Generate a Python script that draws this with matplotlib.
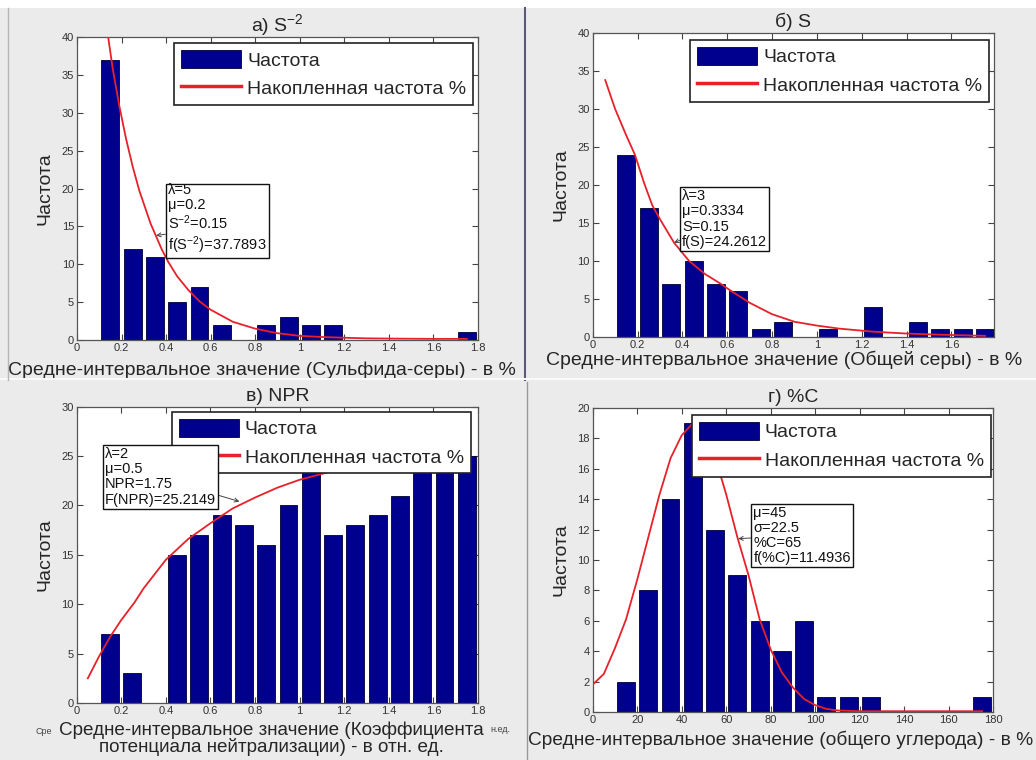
import matplotlib
matplotlib.use("Agg")
import matplotlib.pyplot as plt
from matplotlib.patches import Patch, Rectangle
from matplotlib.lines import Line2D
from matplotlib.ticker import FormatStrFormatter

plt.rcParams['font.family'] = ['Liberation Sans', 'DejaVu Sans']

# ---- data ----
# a) S^-2 (sulfide sulfur)
a_centers = [0.15, 0.25, 0.35, 0.45, 0.55, 0.65, 0.75, 0.85, 0.95, 1.05, 1.15,
             1.25, 1.35, 1.45, 1.55, 1.65, 1.75]
a_counts = [37, 12, 11, 5, 7, 2, 0, 2, 3, 2, 2, 0, 0, 0, 0, 0, 1]
a_curve_x = [0.14, 0.16, 0.19, 0.22, 0.25, 0.28, 0.33, 0.38, 0.41, 0.45, 0.5, 0.55,
             0.6, 0.7, 0.8, 0.9, 1.0, 1.1, 1.2, 1.3, 1.45, 1.6, 1.75]
a_curve_y = [40.0, 35.9, 30.9, 26.6, 22.9, 19.7, 15.4, 12.0, 10.3, 8.4, 6.6, 5.1,
             4.0, 2.4, 1.5, 0.9, 0.55, 0.4, 0.3, 0.22, 0.18, 0.15, 0.15]

# b) S (total sulfur)
b_centers = [0.15, 0.25, 0.35, 0.45, 0.55, 0.65, 0.75, 0.85, 0.95, 1.05, 1.15,
             1.25, 1.35, 1.45, 1.55, 1.65, 1.75]
b_counts = [24, 17, 7, 10, 7, 6, 1, 2, 0, 1, 0, 4, 0, 2, 1, 1, 1]
b_curve_x = [0.056, 0.1, 0.15, 0.188, 0.23, 0.266, 0.3, 0.363, 0.43, 0.5, 0.571,
             0.61, 0.7, 0.8, 0.9, 1.0, 1.1, 1.25, 1.4, 1.55, 1.75]
b_curve_y = [33.8, 30.0, 26.5, 24.0, 20.2, 17.3, 15.5, 12.4, 10.0, 8.3, 7.0,
             6.2, 4.5, 3.0, 2.0, 1.5, 1.1, 0.7, 0.45, 0.3, 0.15]

# в) NPR
c_centers = [0.15, 0.25, 0.35, 0.45, 0.55, 0.65, 0.75, 0.85, 0.95, 1.05, 1.15,
             1.25, 1.35, 1.45, 1.55, 1.65, 1.75]
c_counts = [7, 3, 0, 15, 17, 19, 18, 16, 20, 24, 17, 18, 19, 21, 24, 24, 25]
c_curve_x = [0.05, 0.1, 0.15, 0.2, 0.26, 0.3, 0.4, 0.5, 0.6, 0.7, 0.8, 0.9, 1.0,
             1.1, 1.2, 1.4, 1.6, 1.75]
c_curve_y = [2.5, 4.7, 6.7, 8.4, 10.2, 11.6, 14.5, 16.6, 18.2, 19.7, 20.8, 21.8,
             22.6, 23.2, 23.8, 24.5, 25.0, 25.2]

# г) %C (total carbon)
d_centers = [15, 25, 35, 45, 55, 65, 75, 85, 95, 105, 115, 125, 135, 145, 155,
             165, 175]
d_counts = [2, 8, 14, 19, 12, 9, 6, 4, 6, 1, 1, 1, 0, 0, 0, 0, 1]
d_curve_x = [0, 5, 10, 15, 20, 25, 30, 35, 40, 45, 50, 55, 58, 60, 65, 70, 75, 80,
             85, 90, 95, 100, 105, 110, 120, 140, 160, 175]
d_curve_y = [1.8, 2.5, 4.2, 6.1, 8.7, 11.5, 14.3, 16.7, 18.2, 19.0, 18.6, 16.6,
             15.3, 14.3, 11.5, 9.0, 6.1, 4.1, 2.6, 1.6, 0.85, 0.45, 0.2, 0.1,
             0.05, 0.05, 0.05, 0.05]

legend_labels = ['Частота', 'Накопленная частота %']
ylabel = 'Частота'

BAR = '#00008f'
RED = '#e8202a'
BG = '#ebebeb'
TXT = '#262626'
FS = 14

fig = plt.figure(figsize=(10.36, 7.6), dpi=100, facecolor=BG)

# screenshot-like borders between the four pieces
fig.patches.append(Rectangle((0, 1 - 8 / 760), 1, 8 / 760, transform=fig.transFigure,
                             facecolor='white', edgecolor='none', zorder=0))
fig.add_artist(Line2D([525 / 1036, 525 / 1036], [1 - 380 / 760, 1 - 8 / 760],
                      color='#5a5a78', lw=1.5))
fig.add_artist(Line2D([527 / 1036, 527 / 1036], [0, 1 - 382 / 760],
                      color='#9a9a9a', lw=1.0))
fig.add_artist(Line2D([0, 1], [1 - 379 / 760, 1 - 379 / 760], color='#fafafa', lw=1.5))
fig.add_artist(Line2D([8 / 1036, 8 / 1036], [1 - 380 / 760, 1 - 8 / 760],
                      color='#b5b5b5', lw=1.0))


def draw_panel(rect, centers, counts, width, cx, cy, xlim, xticks, ylim, yticks,
               title, xlabel, label_x, label_pad, tip_text, tip_pos, tip_xy, tip_rel,
               leg_anchor):
    ax = fig.add_axes(rect)
    ax.bar(centers, counts, width=width, color=BAR, edgecolor='#000030', lw=0.6,
           zorder=2)
    ax.plot(cx, cy, color=RED, lw=1.3, zorder=3)
    ax.set_xlim(*xlim)
    ax.set_ylim(*ylim)
    ax.set_xticks(xticks)
    ax.set_yticks(yticks)
    ax.xaxis.set_major_formatter(FormatStrFormatter('%g'))
    ax.yaxis.set_major_formatter(FormatStrFormatter('%g'))
    ax.tick_params(direction='in', top=True, right=True, length=4, width=0.8,
                   labelsize=8, pad=2, colors='#444444', labelcolor='#333333')
    for s in ax.spines.values():
        s.set_color('#555555')
        s.set_linewidth(0.9)
    ax.set_title(title, fontsize=FS, color=TXT, pad=4)
    ax.set_ylabel(ylabel, fontsize=FS, color=TXT, labelpad=6)
    ax.set_xlabel(xlabel, fontsize=FS, color=TXT, labelpad=label_pad)
    ax.xaxis.label.set_x(label_x)

    handles = [Patch(facecolor=BAR, edgecolor='#000030', lw=0.6),
               Line2D([], [], color=RED, lw=2.5)]
    leg = ax.legend(handles, legend_labels, loc='upper right', bbox_to_anchor=leg_anchor,
                    fontsize=FS, handlelength=3.1, handleheight=1.05, borderpad=0.35,
                    labelspacing=0.45, handletextpad=0.3, borderaxespad=0,
                    fancybox=False, framealpha=1, edgecolor='#222222')
    leg.get_frame().set_linewidth(1.2)
    for t in leg.get_texts():
        t.set_color(TXT)
    leg.set_zorder(5)

    ax.annotate(tip_text, xy=tip_xy, xycoords='data', xytext=tip_pos,
                textcoords='axes fraction', ha='left', va='center', fontsize=10.5,
                color='#111111', linespacing=1.1, zorder=6,
                bbox=dict(boxstyle='square,pad=0.15', facecolor='white',
                          edgecolor='#111111', lw=1.0),
                arrowprops=dict(arrowstyle='->', color='#444444', lw=0.7,
                                mutation_scale=7, relpos=tip_rel, shrinkA=0,
                                shrinkB=0))
    return ax


sup = r'$\mathregular{^{-2}}$'

draw_panel([0.0743, 0.5526, 0.3871, 0.3987], a_centers, a_counts, 0.08,
           a_curve_x, a_curve_y, (0, 1.8), [0, 0.2, 0.4, 0.6, 0.8, 1.0, 1.2, 1.4, 1.6, 1.8],
           (0, 40), range(0, 41, 5), 'а) S' + sup,
           'Средне-интервальное значение (Сульфида-серы) - в %', 0.461, 6.5,
           'λ=5\nμ=0.2\nS' + sup + '=0.15\nf(S' + sup + ')=37.7893',
           (0.227, 0.398), (0.355, 13.8), (0, 0.3), (0.9875, 0.98))

draw_panel([0.5721, 0.5566, 0.3874, 0.4000], b_centers, b_counts, 0.08,
           b_curve_x, b_curve_y, (0, 1.79), [0, 0.2, 0.4, 0.6, 0.8, 1.0, 1.2, 1.4, 1.6],
           (0, 40), range(0, 41, 5), 'б) S',
           'Средне-интервальное значение (Общей серы) - в %', 0.477, 1,
           'λ=3\nμ=0.3334\nS=0.15\nf(S)=24.2612',
           (0.223, 0.388), (0.363, 12.4), (0, 0.16), (0.988, 0.977))

ax_c = draw_panel([0.0740, 0.0750, 0.3874, 0.3899], c_centers, c_counts, 0.08,
                  c_curve_x, c_curve_y, (0, 1.8),
                  [0, 0.2, 0.4, 0.6, 0.8, 1.0, 1.2, 1.4, 1.6, 1.8],
                  (0, 30), range(0, 31, 5), 'в) NPR',
                  'Средне-интервальное значение (Коэффициента\n'
                  'потенциала нейтрализации) - в отн. ед.', 0.485, 4,
                  'λ=2\nμ=0.5\nNPR=1.75\nF(NPR)=25.2149',
                  (0.071, 0.763), (0.73, 20.4), (1, 0.2), (0.982, 0.983))
ax_c.xaxis.label.set_linespacing(0.95)
ax_c.xaxis.label.set_fontsize(13.6)
fig.text(36 / 1036, 1 - 731 / 760, 'Сре', fontsize=6.5, color='#444444',
         ha='left', va='center')
fig.text(490 / 1036, 1 - 729 / 760, 'н.ед.', fontsize=6.5, color='#444444',
         ha='left', va='center')

ax_d = draw_panel([0.5721, 0.0632, 0.3867, 0.4000], d_centers, d_counts, 8,
                  d_curve_x, d_curve_y, (0, 180), range(0, 181, 20),
                  (0, 20), range(0, 21, 2), 'г) %C',
                  'Средне-интервальное значение (общего углерода) - в %', 0.468, 4.5,
                  'μ=45\nσ=22.5\n%C=65\nf(%C)=11.4936',
                  (0.401, 0.5806), (65.4, 11.4), (0, 0.46), (0.9935, 0.977))
ax_d.xaxis.label.set_fontsize(13.8)

fig.savefig('out.png', dpi=100, facecolor=BG)
